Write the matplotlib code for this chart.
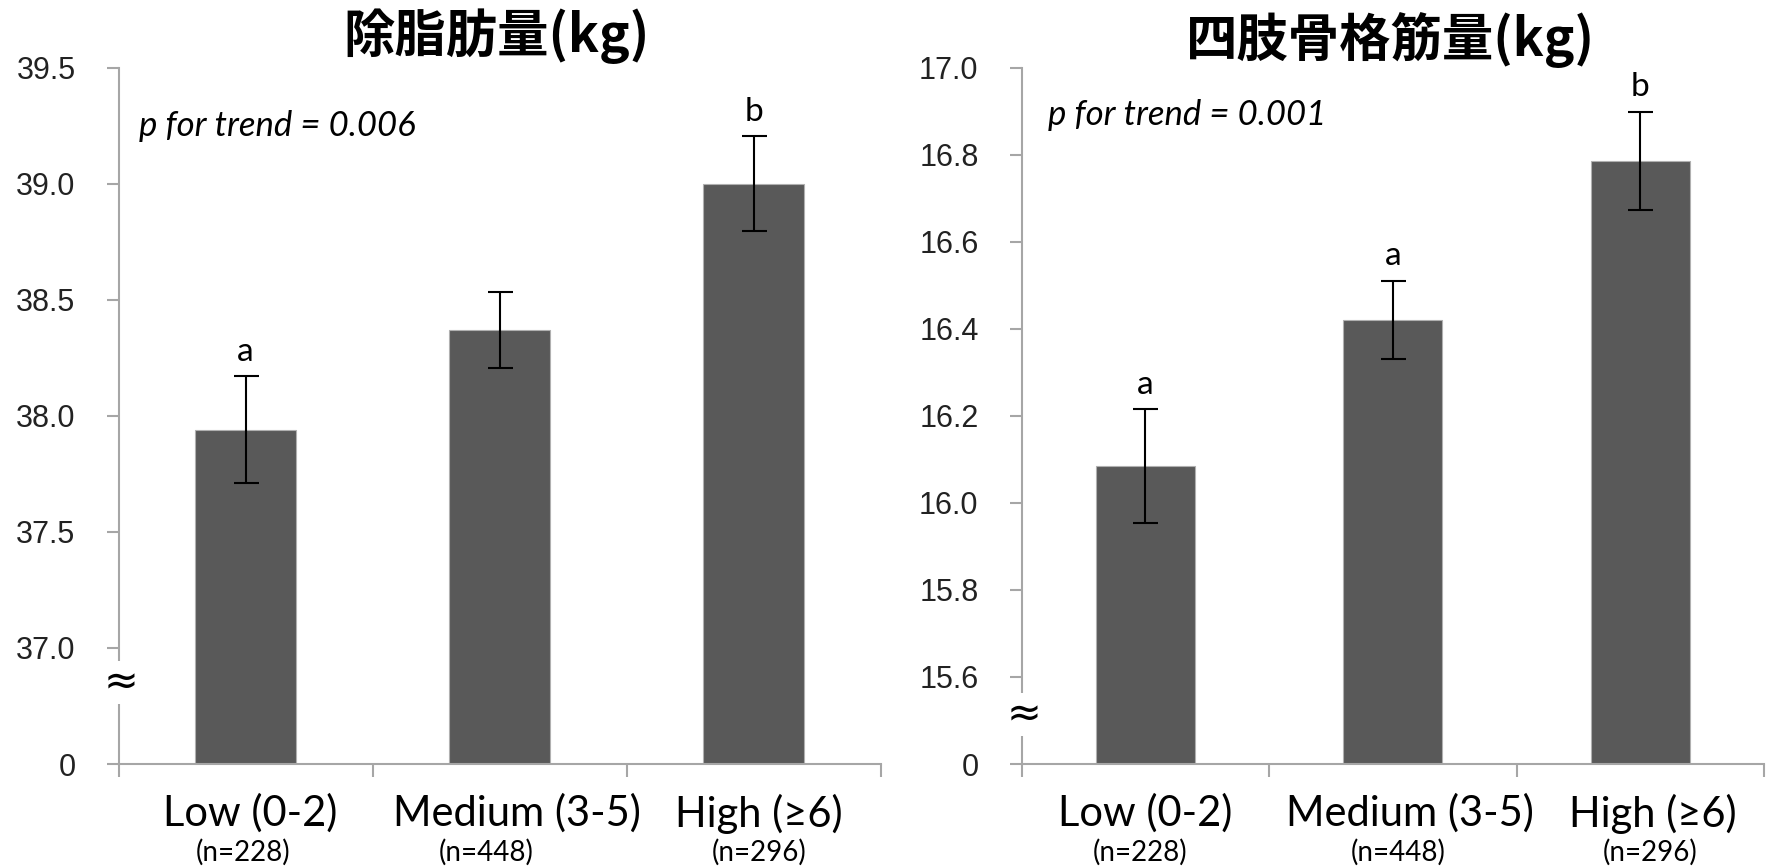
import matplotlib
matplotlib.use("Agg")
import matplotlib.pyplot as plt
import numpy as np

# ---- data ----
categories = ["Low (0-2)", "Medium (3-5)", "High (\u22656)"]
n_labels = ["(n=228)", "(n=448)", "(n=296)"]

ffm_title = "除脂肪量(kg)"
ffm_values = [37.94, 38.37, 39.00]
ffm_errors = [0.23, 0.165, 0.205]
ffm_letters = ["a", "", "b"]
ffm_p = "p for trend = 0.006"
ffm_ylim = (36.5, 39.5)
ffm_ticks = [36.5, 37.0, 37.5, 38.0, 38.5, 39.0, 39.5]
ffm_ticklabels = ["0", "37.0", "37.5", "38.0", "38.5", "39.0", "39.5"]

smm_title = "四肢骨格筋量(kg)"
smm_values = [16.085, 16.42, 16.786]
smm_errors = [0.13, 0.09, 0.113]
smm_letters = ["a", "a", "b"]
smm_p = "p for trend = 0.001"
smm_ylim = (15.4, 17.0)
smm_ticks = [15.4, 15.6, 15.8, 16.0, 16.2, 16.4, 16.6, 16.8, 17.0]
smm_ticklabels = ["0", "15.6", "15.8", "16.0", "16.2", "16.4", "16.6", "16.8", "17.0"]

# ---- style ----
BAR = "#595959"
SPINE = "#a6a6a6"
cjk = ["Noto Sans CJK JP", "DejaVu Sans"]
lat = ["Lato", "DejaVu Sans"]

fig = plt.figure(figsize=(17.7, 8.67), dpi=100)
fig.patch.set_facecolor("white")
ax1 = fig.add_axes([0.0670, 0.1188, 0.4305, 0.803])
ax2 = fig.add_axes([0.5772, 0.1188, 0.4194, 0.803])

def draw(ax, title, vals, errs, letters, ptxt, ylim, ticks, tlabels,
         lab_off, n_off, title_x, title_y, title_fs, p_xy, brk_y):
    x = np.arange(len(vals))
    ax.bar(x, vals, width=0.4, color=BAR, edgecolor="#b0b0b0", linewidth=0.8, zorder=2)
    ax.errorbar(x, vals, yerr=errs, fmt="none", ecolor="black", elinewidth=1.5,
                capsize=9, capthick=1.5, zorder=3)
    ax.set_ylim(*ylim)
    ax.set_xlim(-0.5, len(vals) - 0.5)
    ax.set_yticks(ticks)
    ax.set_yticklabels(tlabels, family=["Liberation Sans"], fontsize=22, color="#222222")
    ax.set_xticks(np.arange(len(vals) + 1) - 0.5)
    ax.set_xticklabels([])
    ax.tick_params(axis="both", direction="out", length=9, width=1.5, color=SPINE)
    ax.tick_params(axis="y", pad=22)
    for s in ["top", "right"]:
        ax.spines[s].set_visible(False)
    for s in ["left", "bottom"]:
        ax.spines[s].set_color(SPINE)
        ax.spines[s].set_linewidth(1.5)
    tr = ax.get_xaxis_transform()
    for i, (c, n) in enumerate(zip(categories, n_labels)):
        ax.text(i + lab_off[i], -0.071, c, transform=tr, ha="center", va="center",
                family=lat, fontsize=30, color="black", clip_on=False)
        ax.text(i + n_off[i], -0.127, n, transform=tr, ha="center", va="center",
                family=lat, fontsize=20, color="black", clip_on=False)
    for i, (v, e, l) in enumerate(zip(vals, errs, letters)):
        if l:
            ax.annotate(l, (i, v + e), xytext=(0, 7), textcoords="offset points",
                        ha="center", va="bottom", family=lat, fontsize=24)
    ax.text(title_x, title_y, title, transform=ax.transAxes, ha="center", va="center",
            family=cjk, fontsize=title_fs, fontweight="bold", clip_on=False)
    ax.text(p_xy[0], p_xy[1], ptxt, transform=ax.transAxes, ha="left", va="center",
            family=lat, style="italic", fontsize=25)
    ax.text(0.003, brk_y, "\u2248", transform=ax.transAxes, ha="center", va="center",
            fontsize=30, family=["DejaVu Sans"], color="black",
            bbox=dict(facecolor="white", edgecolor="none", pad=0.3), clip_on=False, zorder=5)

draw(ax1, ffm_title, ffm_values, ffm_errors, ffm_letters, ffm_p, ffm_ylim,
     ffm_ticks, ffm_ticklabels,
     lab_off=[0.02, 0.067, 0.02], n_off=[-0.01, -0.053, 0.02],
     title_x=0.496, title_y=1.045, title_fs=37, p_xy=(0.027, 0.916), brk_y=0.117)
draw(ax2, smm_title, smm_values, smm_errors, smm_letters, smm_p, smm_ylim,
     smm_ticks, smm_ticklabels,
     lab_off=[0.0, 0.07, 0.05], n_off=[-0.02, 0.02, 0.04],
     title_x=0.497, title_y=1.04, title_fs=37, p_xy=(0.035, 0.932), brk_y=0.071)

fig.savefig("out.png", dpi=100, facecolor="white")
